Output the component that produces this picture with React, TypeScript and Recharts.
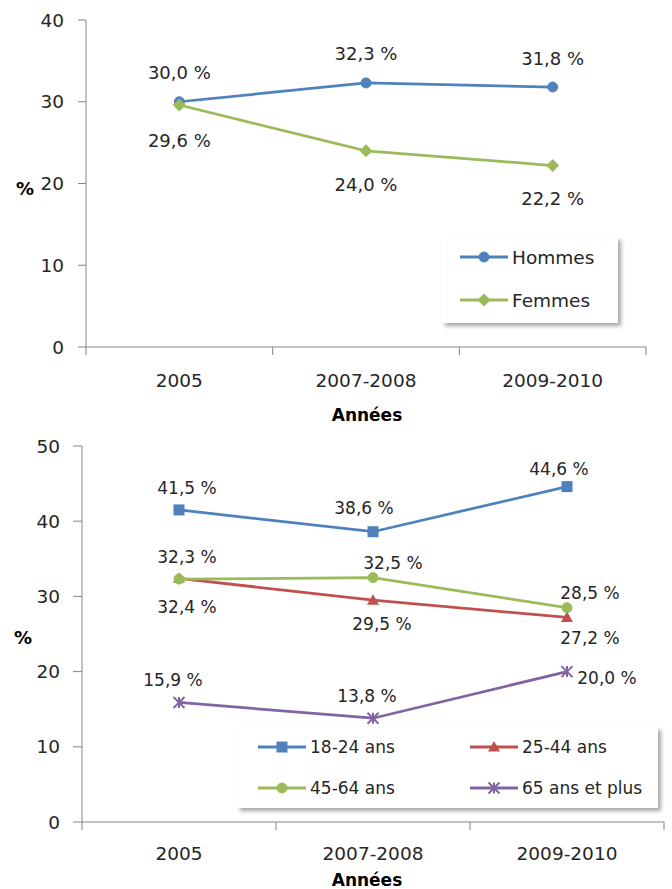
import React from 'react';
import { LineChart, Line, XAxis, YAxis, LabelList } from 'recharts';

// categories + values
const categories = ['2005', '2007-2008', '2009-2010'];

const hommes = [30.0, 32.3, 31.8];
const femmes = [29.6, 24.0, 22.2];

const ages18to24 = [41.5, 38.6, 44.6];
const ages25to44 = [32.4, 29.5, 27.2];
const ages45to64 = [32.3, 32.5, 28.5];
const ages65plus = [15.9, 13.8, 20.0];

const ticksTop = [0, 10, 20, 30, 40];
const ticksBottom = [0, 10, 20, 30, 40, 50];

const BLUE = '#4F81BD';
const RED = '#C0504D';
const GREEN = '#9BBB59';
const PURPLE = '#8064A2';
const AXIS = '#868686';
const TEXT = '#262626';
const FONT = "'DejaVu Sans', sans-serif";

const topData = categories.map((c, i) => ({ annee: c, hommes: hommes[i], femmes: femmes[i] }));
const bottomData = categories.map((c, i) => ({
  annee: c,
  a1824: ages18to24[i],
  a2544: ages25to44[i],
  a4564: ages45to64[i],
  a65: ages65plus[i],
}));

type Shape = 'circle' | 'diamond' | 'square' | 'triangle' | 'star';

// label offsets (dx, dy) per point, relative to the marker
const topSeries = [
  { key: 'hommes', name: 'Hommes', color: BLUE, shape: 'circle' as Shape, labelPos: [[0, -29], [0, -29], [0, -29]] },
  { key: 'femmes', name: 'Femmes', color: GREEN, shape: 'diamond' as Shape, labelPos: [[0, 35], [0, 34], [0, 33]] },
];

const bottomSeries = [
  { key: 'a1824', name: '18-24 ans', color: BLUE, shape: 'square' as Shape, labelPos: [[8, -22], [-9, -24], [-8, -18]] },
  { key: 'a2544', name: '25-44 ans', color: RED, shape: 'triangle' as Shape, labelPos: [[8, 29], [9, 24], [23, 21]] },
  { key: 'a4564', name: '45-64 ans', color: GREEN, shape: 'circle' as Shape, labelPos: [[8, -22], [20, -15], [23, -15]] },
  { key: 'a65', name: '65 ans et plus', color: PURPLE, shape: 'star' as Shape, labelPos: [[-6, -22], [-6, -22], [40, 6]] },
];

const fmt = (v: number) => v.toFixed(1).replace('.', ',') + ' %';

function Marker({ shape, cx, cy, color }: { shape: Shape; cx: number; cy: number; color: string }) {
  if (cx == null || cy == null) return null;
  switch (shape) {
    case 'circle':
      return <circle cx={cx} cy={cy} r={5} fill={color} stroke={color} strokeWidth={1} />;
    case 'diamond': {
      const d = 6.5;
      return <path d={`M${cx},${cy - d}L${cx + d},${cy}L${cx},${cy + d}L${cx - d},${cy}Z`} fill={color} />;
    }
    case 'square':
      return <rect x={cx - 5.5} y={cy - 5.5} width={11} height={11} fill={color} />;
    case 'triangle':
      return <path d={`M${cx},${cy - 6}L${cx + 6},${cy + 4.5}L${cx - 6},${cy + 4.5}Z`} fill={color} />;
    case 'star': {
      const h = 5.5;
      return (
        <g stroke={color} strokeWidth={2}>
          <line x1={cx - h} y1={cy - h} x2={cx + h} y2={cy + h} />
          <line x1={cx - h} y1={cy + h} x2={cx + h} y2={cy - h} />
          <line x1={cx} y1={cy - h} x2={cx} y2={cy + h} />
        </g>
      );
    }
  }
  return null;
}

const makeLabel = (pos: number[][], size: number) => (p: any) => {
  const x = p.viewBox?.x ?? p.x;
  const y = p.viewBox?.y ?? p.y;
  const [dx, dy] = pos[p.index] || [0, 0];
  return (
    <text
      x={x + dx}
      y={y + dy}
      textAnchor="middle"
      dominantBaseline="central"
      fontSize={size}
      fontFamily={FONT}
      fill={TEXT}
    >
      {fmt(Number(p.value))}
    </text>
  );
};

// category tick: label in the middle, tick marks on the band edges (Excel style)
const makeCatTick = (band: number, count: number, labelDy: number) => (p: any) => {
  const { x, y, index, payload } = p;
  return (
    <g>
      <line x1={x - band / 2} y1={y} x2={x - band / 2} y2={y + 8} stroke={AXIS} />
      {index === count - 1 && <line x1={x + band / 2} y1={y} x2={x + band / 2} y2={y + 8} stroke={AXIS} />}
      <text x={x} y={y + labelDy} textAnchor="middle" dominantBaseline="central" fontSize={18.5} fontFamily={FONT} fill={TEXT}>
        {payload.value}
      </text>
    </g>
  );
};

const axisTitle = (text: string, x: number, dy: number) => (p: any) => (
  <text x={x} y={p.viewBox.y + dy} textAnchor="middle" dominantBaseline="central" fontSize={17} fontWeight="bold" fontFamily={FONT} fill="#000">
    {text}
  </text>
);

const pctTitle = (x: number, y: number) => () => (
  <text x={x} y={y} textAnchor="middle" dominantBaseline="central" fontSize={18} fontWeight="bold" fontFamily={FONT} fill="#000">
    %
  </text>
);

function LegendItem({ left, top, color, shape, name, size }: any) {
  return (
    <div style={{ position: 'absolute', left, top: top - 12, height: 24, display: 'flex', alignItems: 'center' }}>
      <svg width={50} height={24} style={{ display: 'block' }}>
        <line x1={1} y1={12} x2={49} y2={12} stroke={color} strokeWidth={3} />
        <Marker shape={shape} cx={25} cy={12} color={color} />
      </svg>
      <span style={{ fontFamily: FONT, fontSize: size, color: TEXT, marginLeft: 3, whiteSpace: 'nowrap' }}>{name}</span>
    </div>
  );
}

const legendBox: React.CSSProperties = {
  position: 'absolute',
  background: '#fff',
  boxShadow: '3px 3px 4px rgba(0,0,0,0.35)',
};

export default function App() {
  const topBand = 560 / 3;
  const bottomBand = 582 / 3;

  return (
    <div style={{ position: 'absolute', left: 0, top: 0, width: 672, height: 889, background: '#fff' }}>
      <div style={{ position: 'absolute', left: 0, top: 0 }}>
        <LineChart width={672} height={430} data={topData} margin={{ top: 20, right: 26, left: 0, bottom: 0 }}>
          <XAxis
            dataKey="annee"
            padding={{ left: topBand / 2, right: topBand / 2 }}
            axisLine={{ stroke: AXIS }}
            tickLine={false}
            tickSize={0}
            tickMargin={0}
            interval={0}
            height={83}
            tick={makeCatTick(topBand, categories.length, 33.5)}
            label={{ content: axisTitle('Années', 367, 68) }}
          />
          <YAxis
            type="number"
            domain={[0, 40]}
            ticks={ticksTop}
            interval={0}
            width={86}
            tickSize={8}
            tickMargin={14}
            axisLine={{ stroke: AXIS }}
            tickLine={{ stroke: AXIS }}
            tick={{ fill: TEXT, fontSize: 18.5, fontFamily: FONT }}
            label={{ content: pctTitle(25, 188) }}
          />
          {topSeries.map((s) => (
            <Line
              key={s.key}
              dataKey={s.key}
              name={s.name}
              stroke={s.color}
              strokeWidth={2.75}
              isAnimationActive={false}
              activeDot={false}
              dot={(p: any) => <Marker key={`${s.key}-${p.index}`} shape={s.shape} cx={p.cx} cy={p.cy} color={s.color} />}
            >
              <LabelList dataKey={s.key} content={makeLabel(s.labelPos, 18)} />
            </Line>
          ))}
        </LineChart>
      </div>

      <div style={{ ...legendBox, left: 442, top: 237, width: 176, height: 86 }}>
        {topSeries.map((s, i) => (
          <LegendItem key={s.key} left={17} top={20 + i * 43} color={s.color} shape={s.shape} name={s.name} size={18.5} />
        ))}
      </div>

      <div style={{ position: 'absolute', left: 0, top: 430 }}>
        <LineChart width={672} height={459} data={bottomData} margin={{ top: 16, right: 8, left: 0, bottom: 0 }}>
          <XAxis
            dataKey="annee"
            padding={{ left: bottomBand / 2, right: bottomBand / 2 }}
            axisLine={{ stroke: AXIS }}
            tickLine={false}
            tickSize={0}
            tickMargin={0}
            interval={0}
            height={67}
            tick={makeCatTick(bottomBand, categories.length, 31)}
            label={{ content: axisTitle('Années', 367, 58) }}
          />
          <YAxis
            type="number"
            domain={[0, 50]}
            ticks={ticksBottom}
            interval={0}
            width={82}
            tickSize={9}
            tickMargin={13}
            axisLine={{ stroke: AXIS }}
            tickLine={{ stroke: AXIS }}
            tick={{ fill: TEXT, fontSize: 18.5, fontFamily: FONT }}
            label={{ content: pctTitle(23, 207) }}
          />
          {bottomSeries.map((s) => (
            <Line
              key={s.key}
              dataKey={s.key}
              name={s.name}
              stroke={s.color}
              strokeWidth={2.75}
              isAnimationActive={false}
              activeDot={false}
              dot={(p: any) => <Marker key={`${s.key}-${p.index}`} shape={s.shape} cx={p.cx} cy={p.cy} color={s.color} />}
            >
              <LabelList dataKey={s.key} content={makeLabel(s.labelPos, 17)} />
            </Line>
          ))}
        </LineChart>
      </div>

      <div style={{ ...legendBox, left: 237, top: 727, width: 421, height: 81 }}>
        {bottomSeries.map((s, i) => (
          <LegendItem
            key={s.key}
            left={i % 2 === 0 ? 20 : 232}
            top={i < 2 ? 20 : 61}
            color={s.color}
            shape={s.shape}
            name={s.name}
            size={17}
          />
        ))}
      </div>
    </div>
  );
}
